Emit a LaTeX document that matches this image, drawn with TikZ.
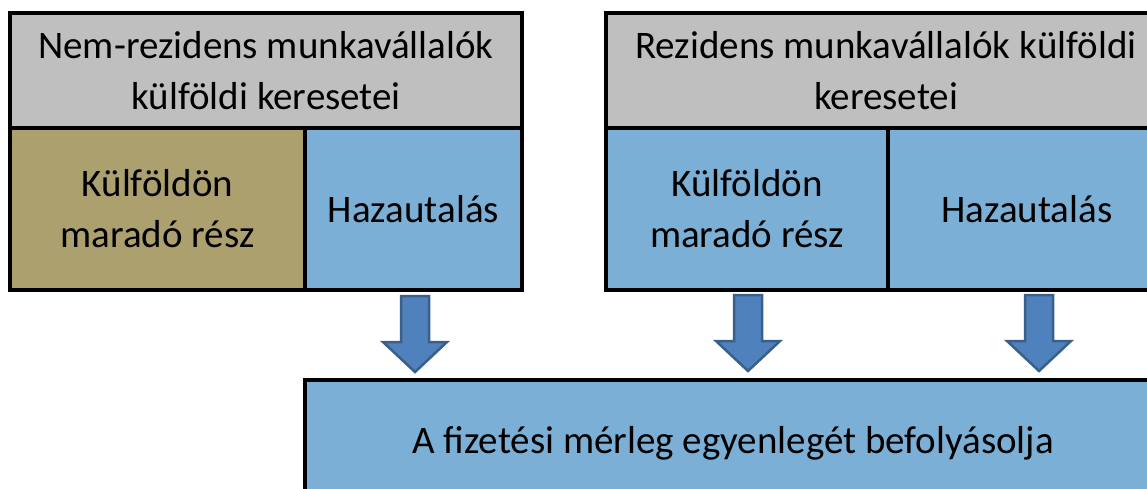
\documentclass[tikz,border=0pt]{standalone}
\usepackage{fontspec}
\setmainfont{Carlito}
\usetikzlibrary{positioning}
\definecolor{headgray}{HTML}{BFBFBF}
\definecolor{cellkhaki}{HTML}{ACA06E}
\definecolor{cellblue}{HTML}{7BAFD5}
\definecolor{arrowfill}{HTML}{4F81BD}
\definecolor{arrowline}{HTML}{3A5F8B}
\tikzstyle{box} = [draw=black,line width=4pt,rectangle,inner sep=0,outer sep=0,align=center,font=\fontsize{39}{51}\selectfont,anchor=north west]
\tikzstyle{head} = [box,fill=headgray,minimum height=115pt]
\tikzstyle{part} = [box,fill=cellblue,minimum height=162pt]
\tikzset{fat/.pic={
  \draw[line width=2.5pt,fill=arrowfill,draw=arrowline,line join=miter]
    (-14,0) -- (14,0) -- (14,-46) -- (32,-46) -- (0,-76) -- (-32,-46) -- (-14,-46) -- cycle;}}

\begin{document}
\begin{tikzpicture}[x=1pt,y=1pt]
      \useasboundingbox (0,0) rectangle (1147,-489);
      \clip (0,0) rectangle (1147,-489);
      % non-resident group
      \node[head,minimum width=512pt] (h1) at (10,-13) {Nem-rezidens munkavállalók\\külföldi keresetei};
      \node[part,fill=cellkhaki,minimum width=295pt] (k1) at (h1.south west) {Külföldön\\maradó rész};
      \node[part,minimum width=217pt] (z1) at (k1.north east) {Hazautalás};
      % resident group
      \node[head,minimum width=560pt] (h2) at (606,-13) {Rezidens munkavállalók külföldi\\keresetei};
      \node[part,minimum width=282pt] (k2) at (h2.south west) {Külföldön\\maradó rész};
      \node[part,minimum width=278pt] (z2) at (k2.north east) {Hazautalás};
      % result
      \node[box,fill=cellblue,minimum width=856pt,minimum height=126pt] (res) at (305,-380) {A fizetési mérleg egyenlegét befolyásolja};
      \pic at ([xshift=1.5pt,yshift=-6pt]z1.south) {fat};
      \pic at ([xshift=1pt,yshift=-5pt]k2.south) {fat};
      \pic at ([xshift=12pt,yshift=-5pt]z2.south) {fat};
    \end{tikzpicture}
\end{document}
